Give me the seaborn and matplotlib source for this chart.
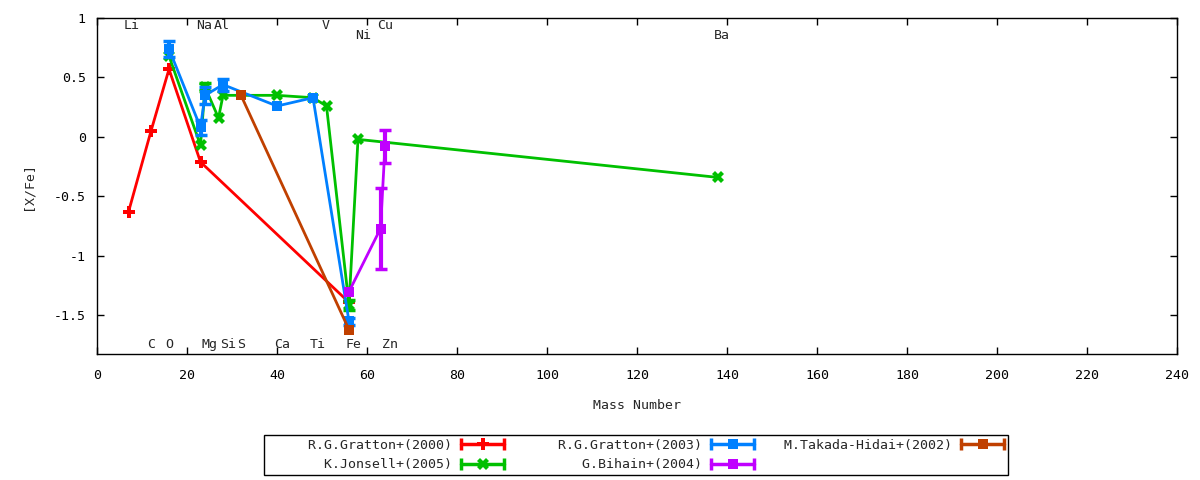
import matplotlib
matplotlib.use("Agg")
import matplotlib.pyplot as plt
import seaborn as sns
import numpy as np
import pandas as pd
from matplotlib.lines import Line2D
from matplotlib.legend_handler import HandlerBase

# ---- data ----
gratton2000_mass = [7, 12, 16, 23, 56]
gratton2000_xfe = [-0.63, 0.05, 0.57, -0.21, -1.39]
gratton2000_err = [0, 0, 0, 0, 0]

jonsell2005_mass = [16, 23, 24, 27, 28, 40, 48, 51, 56, 58, 138]
jonsell2005_xfe = [0.68, -0.07, 0.42, 0.16, 0.35, 0.35, 0.33, 0.26, -1.41, -0.02, -0.34]
jonsell2005_err = [0, 0, 0.03, 0, 0, 0, 0, 0, 0.04, 0, 0]

gratton2003_mass = [16, 23, 24, 28, 40, 48, 56]
gratton2003_xfe = [0.74, 0.08, 0.35, 0.44, 0.26, 0.33, -1.55]
gratton2003_err = [0.07, 0.06, 0.07, 0.05, 0, 0, 0.03]

bihain2004_mass = [56, 63, 64]
bihain2004_xfe = [-1.30, -0.77, -0.08]
bihain2004_err = [0, 0.34, 0.14]

takada2002_mass = [32, 56]
takada2002_xfe = [0.35, -1.62]
takada2002_err = [0, 0]

series_names = ["R.G.Gratton+(2000)", "K.Jonsell+(2005)", "R.G.Gratton+(2003)",
                "G.Bihain+(2004)", "M.Takada-Hidai+(2002)"]

# element labels (text position, row height)
elem_top = ["Li", "Na", "Al", "V", "Cu"]
elem_top_x = [7.8, 23.9, 27.8, 50.9, 64.0]
elem_mid = ["Ni", "Ba"]
elem_mid_x = [59.1, 138.9]
elem_bot = ["C", "O", "Mg", "Si", "S", "Ca", "Ti", "Fe", "Zn"]
elem_bot_x = [12.0, 16.0, 25.1, 29.1, 32.0, 41.1, 49.1, 57.1, 65.1]

# ---- build a long table ----
parts = []
for name, m, v, e in zip(series_names,
                         [gratton2000_mass, jonsell2005_mass, gratton2003_mass, bihain2004_mass, takada2002_mass],
                         [gratton2000_xfe, jonsell2005_xfe, gratton2003_xfe, bihain2004_xfe, takada2002_xfe],
                         [gratton2000_err, jonsell2005_err, gratton2003_err, bihain2004_err, takada2002_err]):
    parts.append(pd.DataFrame({"mass": m, "xfe": v, "err": e, "ref": name}))
df = pd.concat(parts, ignore_index=True)

colors = {"R.G.Gratton+(2000)": "#ff0000", "K.Jonsell+(2005)": "#00c000",
          "R.G.Gratton+(2003)": "#0080ff", "G.Bihain+(2004)": "#c000ff",
          "M.Takada-Hidai+(2002)": "#c04000"}
markers = {"R.G.Gratton+(2000)": "P", "K.Jonsell+(2005)": "X",
           "R.G.Gratton+(2003)": "s", "G.Bihain+(2004)": "s",
           "M.Takada-Hidai+(2002)": "s"}
msize = {"P": 8, "X": 8, "s": 7.5}

sns.set_style("ticks")
plt.rcParams["font.family"] = ["DejaVu Sans Mono"]
plt.rcParams["font.size"] = 9.5
plt.rcParams["axes.unicode_minus"] = False

fig = plt.figure(figsize=(12, 4.8), dpi=100)
ax = fig.add_axes([97 / 1200, 1 - 354 / 480, 1080 / 1200, 336 / 480])

# draw in gnuplot order so the later series lie on top
for i, name in enumerate(series_names):
    sub = df[df["ref"] == name]
    sns.lineplot(data=sub, x="mass", y="xfe", ax=ax, color=colors[name],
                 linewidth=2, estimator=None, sort=False, legend=False,
                 marker=markers[name], markersize=msize[markers[name]],
                 markeredgewidth=0, zorder=3 + i)
    eb = sub[sub["err"] > 0]
    if len(eb):
        ax.errorbar(eb["mass"], eb["xfe"], yerr=eb["err"], fmt="none",
                    ecolor=colors[name], elinewidth=3, capsize=4, capthick=2.5,
                    zorder=3 + i)

for lab, x in zip(elem_top, elem_top_x):
    ax.text(x, 0.933, lab, ha="center", va="center", fontsize=9.5)
for lab, x in zip(elem_mid, elem_mid_x):
    ax.text(x, 0.85, lab, ha="center", va="center", fontsize=9.5)
for lab, x in zip(elem_bot, elem_bot_x):
    ax.text(x, -1.74, lab, ha="center", va="center", fontsize=9.5)

ax.set_xlim(0, 240)
ax.set_ylim(-1.824, 1.0)
ax.set_xticks(np.arange(0, 241, 20))
ax.set_yticks([-1.5, -1, -0.5, 0, 0.5, 1])
ax.yaxis.set_major_formatter(matplotlib.ticker.FuncFormatter(lambda v, p: "%g" % v))
ax.tick_params(direction="in", top=True, right=True, length=5, width=1, colors="black")
ax.tick_params(axis="x", pad=11)
ax.tick_params(axis="y", pad=8)
for s in ax.spines.values():
    s.set_visible(True)
    s.set_linewidth(1)
    s.set_color("black")
ax.set_xlabel("Mass Number", labelpad=12)
ax.set_ylabel("[X/Fe]", labelpad=14)


# legend sample like gnuplot's errorbar key: line, caps at both ends, point in middle
class GnuKey(HandlerBase):
    def create_artists(self, legend, orig, xd, yd, w, h, fs, trans):
        y = h / 2 - yd
        x0, x1 = -xd, w - xd
        c = orig.get_color()
        line = Line2D([x0, x1], [y, y], color=c, linewidth=2.5)
        caps = Line2D([x0, x1], [y, y], color=c, linestyle="none", marker="|",
                      markersize=9, markeredgewidth=2.5)
        pt = Line2D([(x0 + x1) / 2], [y], color=c, linestyle="none",
                    marker=orig.get_marker(), markersize=orig.get_markersize(),
                    markeredgewidth=0)
        for a in (line, caps, pt):
            a.set_transform(trans)
        return [line, caps, pt]


handles = [Line2D([], [], color=colors[n], marker=markers[n],
                  markersize=msize[markers[n]]) for n in series_names]
leg = fig.legend(handles, [n.rjust(23) for n in series_names],
                 handler_map={Line2D: GnuKey()},
                 ncol=3, loc="center", bbox_to_anchor=(0.53, 0.052),
                 markerfirst=False, frameon=True, fancybox=False, framealpha=1,
                 edgecolor="black", borderpad=0.3, handlelength=3.3,
                 handletextpad=0.7, columnspacing=1.0, labelspacing=0.5,
                 fontsize=9.5)
leg.get_frame().set_linewidth(1)

fig.savefig("out.png", dpi=100)
